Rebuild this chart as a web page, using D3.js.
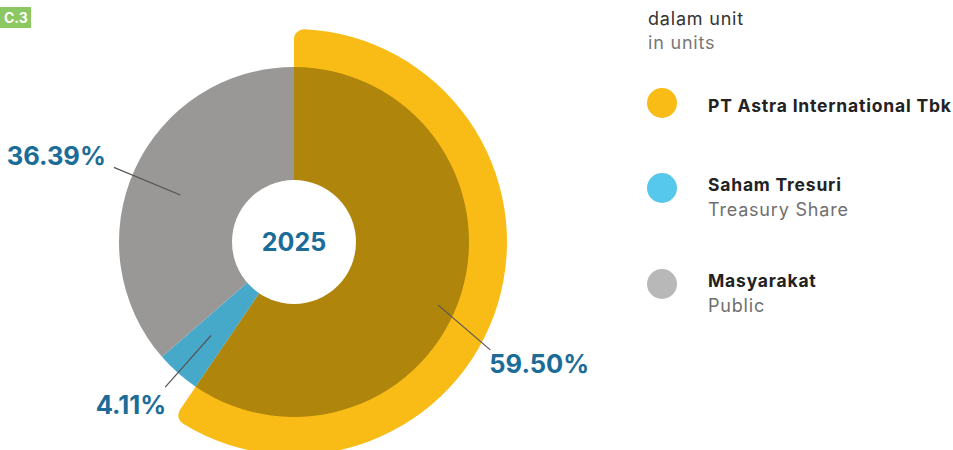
<!DOCTYPE html>
<html>
<head>
<meta charset="utf-8">
<script src="https://cdn.jsdelivr.net/npm/d3@7"></script>
<style>
  body { margin: 0; background: #fff; }
  svg { display: block; font-family: Inter, "Open Sans", sans-serif; }
</style>
</head>
<body>
<script>
const width = 953;
const height = 450;

// data
const categories = ['PT Astra International Tbk', 'Saham Tresuri', 'Masyarakat'];
const subLabels = ['', 'Treasury Share', 'Public'];
const shares = [59.50, 4.11, 36.39];
const year = '2025';

const sliceColors = ['#b0850c', '#47a9c9', '#999896'];
const legendColors = ['#f9bb16', '#56c8ec', '#b8b8b8'];

// label layout: leader line radii, angle tweaks (deg), text offset from line end
const labelLayout = [
  { r0: 157, r1: 224, s0: 6.5, s1: 11.7, dx: -1, dy: 23, anchor: 'start' },
  { r0: 125, r1: 194, s0: 0, s1: 0, dx: 1, dy: 27, anchor: 'end' },
  { r0: 123, r1: 195, s0: -2, s1: -2, dx: -8, dy: -2, anchor: 'end' }
];

function init() {
  const svg = d3.select('body')
    .append('svg')
    .attr('width', width)
    .attr('height', height);

  // section tag
  svg.append('rect')
    .attr('x', 0).attr('y', 7)
    .attr('width', 31).attr('height', 21)
    .attr('fill', '#8cc861');
  svg.append('text')
    .attr('x', 4).attr('y', 23)
    .attr('fill', '#fff')
    .attr('font-size', 14)
    .attr('font-weight', 700)
    .text('C.3');

  const cx = 294;
  const cy = 242;
  const innerR = 62;
  const outerR = 175;
  const bandR = 213;

  const g = svg.append('g')
    .attr('transform', `translate(${cx}, ${cy})`);

  const pie = d3.pie().sort(null).value(d => d);
  const arcs = pie(shares);

  // yellow highlight band behind the main shareholder
  const band = d3.arc()
    .innerRadius(innerR)
    .outerRadius(bandR)
    .cornerRadius(10);
  g.append('path')
    .attr('d', band(arcs[0]))
    .attr('fill', '#f9bb16');

  const arc = d3.arc()
    .innerRadius(0)
    .outerRadius(outerR);

  g.selectAll('path.slice')
    .data(arcs)
    .join('path')
    .classed('slice', true)
    .attr('d', arc)
    .attr('fill', (d, i) => sliceColors[i]);

  g.append('circle')
    .attr('r', innerR)
    .attr('fill', '#fff');

  g.append('text')
    .attr('text-anchor', 'middle')
    .attr('y', 9)
    .attr('fill', '#1b6c97')
    .attr('font-size', 25)
    .attr('font-weight', 700)
    .text(year);

  // leader lines + labels
  const rad = Math.PI / 180;
  const pt = (a, r) => [r * Math.sin(a), -r * Math.cos(a)];

  arcs.forEach((d, i) => {
    const l = labelLayout[i];
    const mid = (d.startAngle + d.endAngle) / 2;
    const p0 = pt(mid + l.s0 * rad, l.r0);
    const p1 = pt(mid + l.s1 * rad, l.r1);
    g.append('line')
      .attr('x1', p0[0]).attr('y1', p0[1])
      .attr('x2', p1[0]).attr('y2', p1[1])
      .attr('stroke', '#555')
      .attr('stroke-width', 1.2);
    g.append('text')
      .attr('x', p1[0] + l.dx)
      .attr('y', p1[1] + l.dy)
      .attr('text-anchor', l.anchor)
      .attr('fill', '#1b6c97')
      .attr('font-size', 25.5)
      .attr('font-weight', 700)
      .text(d3.format('.2f')(shares[i]) + '%');
  });

  // legend
  const lg = svg.append('g')
    .attr('letter-spacing', 0.8);
  lg.append('text')
    .attr('x', 648).attr('y', 25)
    .attr('fill', '#333')
    .attr('font-size', 18)
    .text('dalam unit');
  lg.append('text')
    .attr('x', 648).attr('y', 49)
    .attr('fill', '#777')
    .attr('font-size', 18)
    .text('in units');

  // uneven spacing in the original: Astra row has no sub label
  const rowY = [103, 188, 284];

  const item = lg.selectAll('g.item')
    .data(categories)
    .join('g')
    .classed('item', true)
    .attr('transform', (d, i) => `translate(0, ${rowY[i]})`);

  item.append('circle')
    .attr('cx', 662)
    .attr('r', 15)
    .attr('fill', (d, i) => legendColors[i]);

  item.append('text')
    .attr('x', 708)
    .attr('y', (d, i) => subLabels[i] ? 3 : 9)
    .attr('fill', '#222')
    .attr('font-size', 17.5)
    .attr('font-weight', 700)
    .text(d => d);

  item.append('text')
    .attr('x', 708)
    .attr('y', 28)
    .attr('fill', '#6f6f6f')
    .attr('font-size', 18)
    .text((d, i) => subLabels[i]);
}

init();
</script>
</body>
</html>
